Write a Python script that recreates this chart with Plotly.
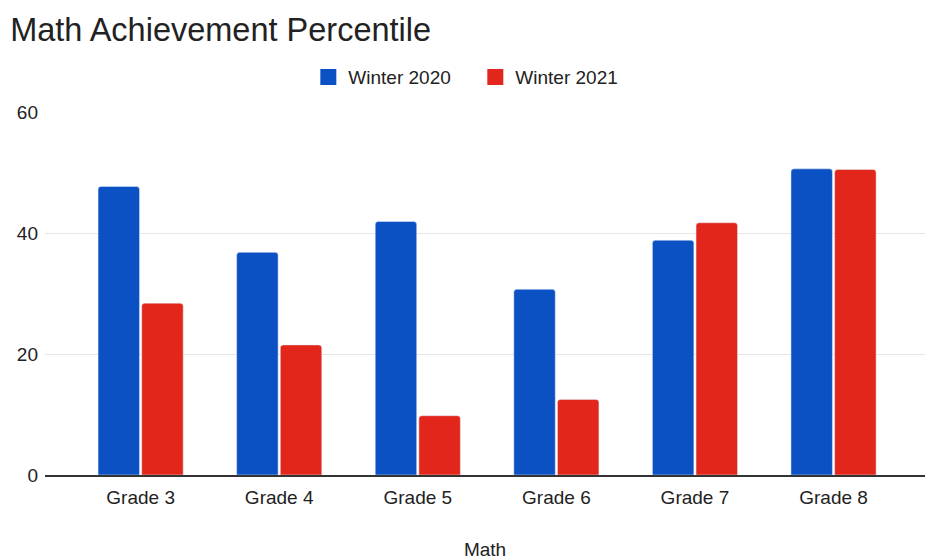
import plotly.graph_objects as go

grades = ["Grade 3", "Grade 4", "Grade 5", "Grade 6", "Grade 7", "Grade 8"]
winter_2020 = [47.7, 36.8, 41.9, 30.7, 38.8, 50.6]
winter_2021 = [28.4, 21.5, 9.8, 12.5, 41.7, 50.5]
y_ticks = [0, 20, 40, 60]

series = [("Winter 2020", winter_2020, "#0c51c3"),
          ("Winter 2021", winter_2021, "#e2261b")]

FONT = "Liberation Sans, Arial, sans-serif"
TEXT = "#222222"

fig = go.Figure()
for name, values, color in series:
    fig.add_trace(go.Bar(x=grades, y=values, name=name, showlegend=False,
                         marker=dict(color=color, cornerradius=3)))
# square legend swatches
for name, values, color in series:
    fig.add_trace(go.Scatter(x=[None], y=[None], mode="markers", name=name,
                             marker=dict(symbol="square", size=16, color=color)))

fig.update_layout(
    width=927, height=560,
    margin=dict(l=45, r=2, t=112, b=83),
    paper_bgcolor="white", plot_bgcolor="white",
    font=dict(family=FONT, size=19, color=TEXT),
    title=dict(text="Math Achievement Percentile", x=0.011, xanchor="left",
               y=0.947, yanchor="middle",
               font=dict(family=FONT, size=32.5, color=TEXT)),
    legend=dict(orientation="h", x=0.489, xanchor="center", y=1.096, yanchor="middle",
                font=dict(size=19, color=TEXT), entrywidth=122),
    bargap=0.37, bargroupgap=0.05,
    xaxis=dict(range=[-0.69, 5.66], showgrid=False, showline=True,
               linecolor="#333333", linewidth=1.5, ticks="",
               tickfont=dict(size=19, color=TEXT), ticklabelstandoff=4,
               title=dict(text="Math", font=dict(size=19, color=TEXT), standoff=37)),
    yaxis=dict(range=[0, 60], tickvals=y_ticks, showgrid=True, gridcolor="#e6e6e6",
               gridwidth=1, zeroline=False, showline=False, ticks="",
               tickfont=dict(size=19, color=TEXT), ticklabelstandoff=6),
)

fig.write_html("out.html")
